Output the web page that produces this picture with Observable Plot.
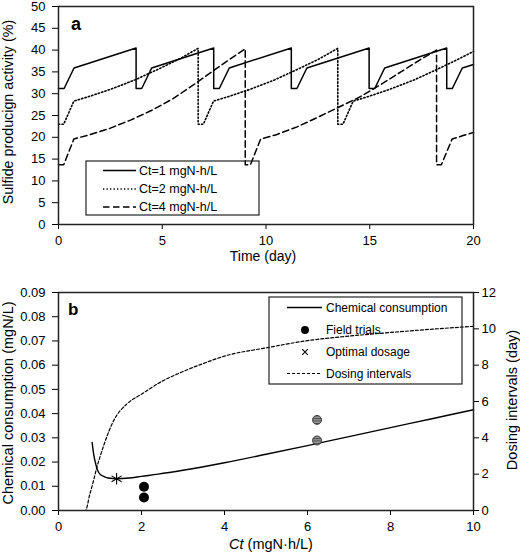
<!DOCTYPE html>
<html><head><meta charset="utf-8">
<script src="https://cdn.jsdelivr.net/npm/d3@7"></script>
<script src="https://cdn.jsdelivr.net/npm/@observablehq/plot@0.6"></script>
<style>
body{margin:0;background:#fff;}
#chart{width:520px;height:554px;background:#fff;}
svg{display:block;}
</style></head><body><div id="chart"></div>
<script>
// ---------- Panel a data ----------
const timeTicks = [0, 5, 10, 15, 20];
const activityTicks = [0, 5, 10, 15, 20, 25, 30, 35, 40, 45, 50];
const seriesNames = ["Ct=1 mgN-h/L", "Ct=2 mgN-h/L", "Ct=4 mgN-h/L"];

const ct1Time = [0, 0.27, 0.75, 3.74, 3.74, 4.01, 4.49, 7.48, 7.48, 7.75, 8.23, 11.22, 11.22, 11.49, 11.97, 14.97, 14.97, 15.24, 15.72, 18.71, 18.71, 18.98, 19.46, 20];
const ct1Activity = [31.2, 31.2, 35.9, 40.5, 31.2, 31.2, 35.9, 40.5, 31.2, 31.2, 35.9, 40.5, 31.2, 31.2, 35.9, 40.5, 31.2, 31.2, 35.9, 40.5, 31.2, 31.2, 35.9, 36.7];

const ct2Time = [0, 0.25, 0.74, 1.5, 2.5, 3.7, 4.75, 5.8, 6.73, 6.73, 6.98, 7.47, 8.23, 9.23, 10.43, 11.48, 12.53, 13.46, 13.46, 13.71, 14.2, 14.96, 15.96, 17.16, 18.21, 19.26, 20];
const ct2Activity = [23.0, 23.0, 28.3, 29.4, 31.0, 33.2, 35.5, 37.9, 40.4, 23.0, 23.0, 28.3, 29.4, 31.0, 33.2, 35.5, 37.9, 40.4, 23.0, 23.0, 28.3, 29.4, 31.0, 33.2, 35.5, 37.9, 39.7];

const ct4Time = [0, 0.25, 0.74, 1.5, 2.5, 3.5, 4.5, 5.5, 6.5, 7.5, 8.5, 9.0, 9.0, 9.25, 9.74, 10.5, 11.5, 12.5, 13.5, 14.5, 15.5, 16.5, 17.5, 18.22, 18.22, 18.45, 18.97, 19.5, 20];
const ct4Activity = [13.7, 13.7, 19.6, 20.6, 22.1, 24.0, 26.2, 28.8, 32.0, 35.4, 38.7, 40.3, 13.7, 13.7, 19.6, 20.6, 22.4, 24.6, 26.9, 29.2, 32.0, 35.0, 38.0, 40.0, 13.7, 13.7, 19.6, 20.4, 21.1];

// ---------- Panel b data ----------
const ctTicks = [0, 2, 4, 6, 8, 10];
const consTicks = [0, 0.01, 0.02, 0.03, 0.04, 0.05, 0.06, 0.07, 0.08, 0.09];
const dayTicks = [0, 2, 4, 6, 8, 10, 12];

const consCt = [0.81, 0.85, 0.9, 0.95, 1.0, 1.1, 1.2, 1.4, 1.7, 2.0, 2.4, 3, 4, 5, 6, 7, 8, 9, 10];
const consumption = [0.0281, 0.0230, 0.0190, 0.0163, 0.0150, 0.0140, 0.0134, 0.0131, 0.0134, 0.0141, 0.0150, 0.0166, 0.0197, 0.0232, 0.0268, 0.0305, 0.0342, 0.0379, 0.0416];

const intervalCt = [0, 0.65, 0.75, 0.85, 0.92, 1.0, 1.1, 1.33, 1.65, 2.0, 2.46, 3.0, 3.5, 4, 5, 6, 7, 8, 9, 10];
const intervalDays = [0, 0, 0.85, 1.7, 2.35, 2.95, 3.65, 4.95, 5.87, 6.4, 7.07, 7.65, 8.1, 8.5, 8.95, 9.35, 9.6, 9.8, 9.98, 10.14];

const fieldCtA = [2.06, 2.06];
const fieldConsA = [0.0098, 0.0054];
const fieldCtB = [6.23, 6.23];
const fieldConsB = [0.0374, 0.0289];

const optimalCt = [1.4];
const optimalCons = [0.0131];

const legendB = ["Chemical consumption", "Field trials", "Optimal dosage", "Dosing intervals"];

// ---------- helpers ----------
const FONT = "'Liberation Sans', Arial, Helvetica, sans-serif";
const zipXY = (xs, ys) => xs.map((x, i) => ({x, y: ys[i]}));
const style = {fontFamily: FONT, fontSize: "13px", color: "black", background: "white", overflow: "visible"};
const DOTTED = "1.3,2.2";
const DASHED = "6.5,3.5";

// ---------- Panel a ----------
const plotA = Plot.plot({
  width: 520, height: 275,
  marginLeft: 58, marginRight: 47, marginTop: 6, marginBottom: 51,
  x: {domain: [0, 20]},
  y: {domain: [0, 50]},
  style,
  marks: [
    Plot.axisX(timeTicks, {tickSize: 5, tickPadding: 6, label: null}),
    Plot.axisY(activityTicks, {tickSize: 6, tickPadding: 7, label: null}),
    Plot.line(zipXY(ct4Time, ct4Activity), {x: "x", y: "y", stroke: "black", strokeWidth: 1.5, strokeDasharray: DASHED}),
    Plot.line(zipXY(ct2Time, ct2Activity), {x: "x", y: "y", stroke: "black", strokeWidth: 1.6, strokeDasharray: DOTTED}),
    Plot.line(zipXY(ct1Time, ct1Activity), {x: "x", y: "y", stroke: "black", strokeWidth: 1.5}),
    Plot.frame({stroke: "#222", strokeWidth: 1.5})
  ]
});

// ---------- Panel b ----------
const k = 0.09 / 12;
const plotB = Plot.plot({
  width: 520, height: 279,
  marginLeft: 58, marginRight: 47, marginTop: 17, marginBottom: 44,
  x: {domain: [0, 10]},
  y: {domain: [0, 0.09]},
  style,
  marks: [
    Plot.axisX(ctTicks, {tickSize: 5, tickPadding: 6, label: null}),
    Plot.axisY(consTicks, {tickSize: 6, tickPadding: 7, tickFormat: d => d.toFixed(2), label: null}),
    Plot.axisY(dayTicks.map(d => d * k), {anchor: "right", tickSize: 5, tickPadding: 3, tickFormat: d => String(Math.round(d / k)), label: null}),
    Plot.line(zipXY(intervalCt, intervalDays), {x: "x", y: d => d.y * k, stroke: "black", strokeWidth: 1.2, strokeDasharray: "3,2", curve: "monotone-x"}),
    Plot.line(zipXY(consCt, consumption), {x: "x", y: "y", stroke: "black", strokeWidth: 1.4, curve: "monotone-x"}),
    Plot.dot(zipXY(fieldCtA, fieldConsA), {x: "x", y: "y", r: 5, fill: "black"}),
    Plot.dot(zipXY(fieldCtB, fieldConsB), {x: "x", y: "y", r: 4.5, fill: "#8a8a8a", stroke: "#333", strokeWidth: 0.9}),
    Plot.dot(zipXY(optimalCt, optimalCons), {x: "x", y: "y", symbol: "asterisk", r: 5.5, stroke: "black", strokeWidth: 1.1}),
    Plot.frame({stroke: "#222", strokeWidth: 1.5})
  ]
});

const chart = document.getElementById("chart");
chart.appendChild(plotA);
chart.appendChild(plotB);

// ---------- Decorations panel a ----------
const sa = d3.select(plotA);
const addText = (sel, x, y, txt, opts = {}) => {
  const t = sel.append("text").attr("x", x).attr("y", y)
    .attr("font-family", FONT).attr("font-size", opts.size || 13)
    .attr("fill", "black").attr("text-anchor", opts.anchor || "start")
    .text(txt);
  if (opts.weight) t.attr("font-weight", opts.weight);
  if (opts.rotate) t.attr("transform", `rotate(-90 ${x} ${y})`);
  if (opts.dy) t.attr("dy", opts.dy);
  return t;
};
addText(sa, 71, 30, "a", {size: 18, weight: "bold"});
addText(sa, 13, 112, "Sulfide producign activity (%)", {anchor: "middle", rotate: true, size: 14.3});
addText(sa, 263, 261, "Time (day)", {anchor: "middle", size: 14});

// legend a
const lgA = sa.append("g");
lgA.append("rect").attr("x", 86).attr("y", 161).attr("width", 173).attr("height", 54)
  .attr("fill", "none").attr("stroke", "#222").attr("stroke-width", 1.2);
const dashes = [null, DOTTED, DASHED];
const rowY = [170.5, 189, 207];
seriesNames.forEach((name, i) => {
  const l = lgA.append("line").attr("x1", 103).attr("x2", 136).attr("y1", rowY[i]).attr("y2", rowY[i])
    .attr("stroke", "black").attr("stroke-width", 1.5);
  if (dashes[i]) l.attr("stroke-dasharray", dashes[i]);
  addText(lgA, 139, rowY[i], name, {dy: "0.35em", size: 12.5});
});

// ---------- Decorations panel b ----------
const sb = d3.select(plotB);
const defs = sb.insert("defs", ":first-child");
const pat = defs.append("pattern").attr("id", "hatch").attr("patternUnits", "userSpaceOnUse")
  .attr("width", 4).attr("height", 2.5);
pat.append("rect").attr("width", 4).attr("height", 2.5).attr("fill", "#9a9a9a");
pat.append("rect").attr("width", 4).attr("height", 1).attr("fill", "#4a4a4a");
sb.selectAll('[fill="#8a8a8a"]').attr("fill", "url(#hatch)");

addText(sb, 68, 40, "b", {size: 17, weight: "bold"});
addText(sb, 13, 128, "Chemical consumption (mgN/L)", {anchor: "middle", rotate: true, size: 14.5});
addText(sb, 517, 125, "Dosing intervals (day)", {anchor: "middle", rotate: true, size: 14.5});
const xt = sb.append("text").attr("x", 271).attr("y", 274).attr("text-anchor", "middle")
  .attr("font-family", FONT).attr("font-size", 14.5).attr("fill", "black");
xt.append("tspan").attr("font-style", "italic").text("Ct");
xt.append("tspan").text(" (mgN\u00B7h/L)");

// legend b (panel-b svg starts at page y=275)
const oy = 275;
const lgB = sb.append("g");
lgB.append("rect").attr("x", 269).attr("y", 297 - oy).attr("width", 193).attr("height", 87)
  .attr("fill", "none").attr("stroke", "#222").attr("stroke-width", 1.2);
const rowB = [307.5, 330, 352, 373.5].map(v => v - oy);
lgB.append("line").attr("x1", 287).attr("x2", 322).attr("y1", rowB[0]).attr("y2", rowB[0])
  .attr("stroke", "black").attr("stroke-width", 1.4);
lgB.append("circle").attr("cx", 305).attr("cy", rowB[1]).attr("r", 4).attr("fill", "black");
lgB.append("path").attr("d", d3.symbol(d3.symbolTimes, 22)()).attr("transform", `translate(305,${rowB[2]})`)
  .attr("fill", "none").attr("stroke", "black").attr("stroke-width", 1.1);
lgB.append("line").attr("x1", 287).attr("x2", 322).attr("y1", rowB[3]).attr("y2", rowB[3])
  .attr("stroke", "black").attr("stroke-width", 1.2).attr("stroke-dasharray", "3,2");
legendB.forEach((name, i) => addText(lgB, 326, rowB[i], name, {dy: "0.35em", size: 12}));
</script>
</body></html>
